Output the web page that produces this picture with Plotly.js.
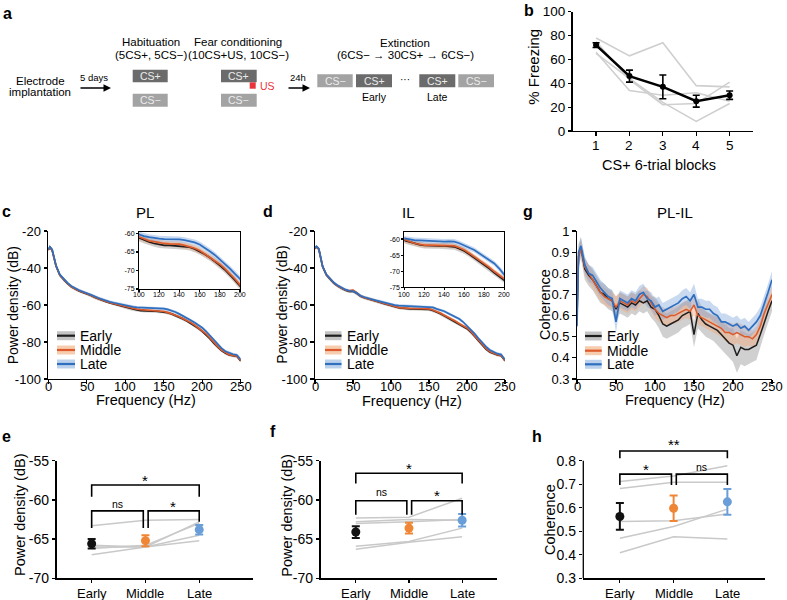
<!DOCTYPE html>
<html><head><meta charset="utf-8">
<script src="https://cdn.plot.ly/plotly-3.0.1.min.js"></script>
<style>body{margin:0;background:#fff}#chart{width:787px;height:600px}</style>
</head><body><div id="chart"></div>
<script>
// ---------- data ----------
const blocks=[1,2,3,4,5];
const blockLabels=['1','2','3','4','5'];
const freezeMean=[72,46,37,25,30];
const freezeSem=[2,5,10,5,3.5];
const freezeRat1=[78,63,74,38,37];
const freezeRat2=[66,34,30,32,25];
const freezeRat3=[65,44,24,8,23];
const freezeRat4=[75,43,22,23,41];

const freqHz=[0,2,5,10,15,20,25,30,35,40,45,50,55,60,65,70,75,80,85,90,95,100,105,110,115,120,125,130,135,140,145,150,155,160,165,170,175,180,185,190,195,200,205,210,215,220,225,230,235,240,245,250];
const freqTicks=[0,50,100,150,200,250];
const insetTicks=[100,120,140,160,180,200];

const plLate=[-30.0,-28.5,-30.0,-38.5,-43.5,-46.0,-48.0,-49.8,-51.0,-52.0,-52.8,-53.5,-54.3,-55.3,-56.2,-57.0,-57.7,-58.3,-58.8,-59.3,-59.8,-60.3,-60.7,-61.0,-61.3,-61.4,-61.5,-61.5,-61.6,-61.6,-61.8,-62.0,-62.4,-63.0,-63.8,-64.8,-65.8,-67.0,-68.2,-69.5,-70.9,-72.3,-74.2,-76.5,-79.0,-81.3,-83.3,-85.0,-86.0,-86.6,-87.0,-89.5];
const plMiddle=[-30.3,-28.8,-30.3,-38.8,-43.8,-46.3,-48.3,-50.1,-51.3,-52.3,-53.1,-53.8,-54.6,-55.7,-56.6,-57.4,-58.1,-58.8,-59.3,-59.8,-60.4,-61.0,-61.5,-62.0,-62.2,-62.5,-62.7,-62.8,-62.8,-62.9,-63.2,-63.5,-64.0,-64.6,-65.5,-66.3,-67.3,-68.3,-69.5,-70.8,-72.3,-73.9,-75.6,-77.8,-80.2,-82.4,-84.3,-85.8,-86.8,-87.3,-87.6,-90.0];
const plEarly=[-30.2,-28.8,-30.4,-38.9,-43.9,-46.4,-48.4,-50.2,-51.4,-52.4,-53.2,-53.9,-54.7,-55.8,-56.7,-57.5,-58.2,-58.9,-59.5,-60.0,-60.6,-61.2,-61.8,-62.3,-62.7,-63.0,-63.2,-63.2,-63.3,-63.3,-63.5,-63.7,-64.2,-64.8,-65.6,-66.5,-67.5,-68.6,-69.8,-71.1,-72.6,-74.2,-76.0,-78.2,-80.6,-82.8,-84.6,-86.0,-87.0,-87.4,-87.7,-90.2];

const ilLate=[-29.0,-28.3,-29.5,-39.0,-43.5,-46.0,-48.0,-49.5,-50.8,-51.7,-52.3,-52.5,-53.5,-55.0,-55.8,-56.5,-57.0,-57.5,-58.0,-58.6,-59.2,-59.8,-60.1,-60.3,-60.4,-60.5,-60.6,-60.7,-60.6,-60.8,-60.7,-60.8,-61.3,-62.1,-62.7,-63.4,-64.4,-65.5,-66.5,-67.6,-69.2,-71.2,-73.2,-75.5,-78.0,-80.5,-82.5,-84.3,-85.5,-86.3,-86.8,-89.5];
const ilMiddle=[-29.2,-28.5,-29.7,-39.2,-43.7,-46.2,-48.2,-49.7,-51.0,-51.9,-52.4,-52.0,-53.4,-55.2,-56.0,-56.7,-57.3,-57.8,-58.4,-59.0,-59.6,-60.3,-60.8,-61.3,-61.6,-61.9,-61.9,-61.9,-61.9,-61.9,-62.0,-62.1,-62.7,-63.4,-64.4,-65.5,-66.5,-67.6,-68.8,-70.1,-71.2,-72.4,-74.3,-76.6,-79.1,-81.5,-83.5,-85.2,-86.2,-86.9,-87.3,-90.0];
const ilEarly=[-29.3,-28.6,-29.8,-39.3,-43.8,-46.3,-48.3,-49.8,-51.1,-52.0,-52.6,-52.6,-53.7,-55.3,-56.1,-56.8,-57.4,-57.9,-58.5,-59.1,-59.7,-60.4,-60.9,-61.4,-61.7,-62.0,-62.1,-62.1,-62.1,-62.1,-62.3,-62.4,-63.0,-63.7,-64.7,-65.8,-66.9,-68.0,-69.2,-70.5,-71.6,-72.8,-74.6,-76.9,-79.4,-81.8,-83.8,-85.4,-86.4,-87.0,-87.4,-90.1];
const psdSemEarly=0.9, psdSemMiddle=0.8, psdSemLate=0.8;

const cohLate=[0.55,0.90,0.93,0.84,0.80,0.79,0.76,0.73,0.71,0.69,0.68,0.57,0.68,0.67,0.66,0.68,0.67,0.70,0.71,0.68,0.67,0.64,0.65,0.62,0.63,0.64,0.65,0.66,0.68,0.69,0.67,0.70,0.64,0.64,0.63,0.63,0.61,0.60,0.57,0.57,0.56,0.55,0.56,0.54,0.55,0.53,0.55,0.57,0.60,0.65,0.71,0.77];
const cohMiddle=[0.62,0.88,0.92,0.83,0.80,0.77,0.74,0.71,0.69,0.68,0.67,0.64,0.67,0.66,0.65,0.67,0.66,0.68,0.70,0.69,0.66,0.63,0.61,0.60,0.59,0.60,0.60,0.61,0.62,0.63,0.62,0.65,0.60,0.59,0.58,0.57,0.56,0.55,0.54,0.52,0.52,0.51,0.52,0.51,0.50,0.50,0.49,0.51,0.55,0.61,0.66,0.70];
const cohEarly=[0.58,0.88,0.92,0.82,0.79,0.77,0.74,0.71,0.70,0.68,0.67,0.63,0.66,0.65,0.64,0.66,0.65,0.67,0.66,0.67,0.64,0.63,0.60,0.56,0.55,0.56,0.57,0.58,0.60,0.61,0.62,0.51,0.61,0.58,0.56,0.55,0.54,0.53,0.51,0.49,0.47,0.46,0.41,0.45,0.44,0.44,0.45,0.46,0.51,0.57,0.62,0.67];
const cohSemEarly=[0.06,0.05,0.05,0.05,0.05,0.05,0.05,0.05,0.05,0.05,0.05,0.06,0.05,0.05,0.05,0.05,0.05,0.05,0.05,0.05,0.05,0.06,0.06,0.06,0.06,0.06,0.06,0.06,0.06,0.06,0.06,0.06,0.07,0.06,0.06,0.06,0.06,0.07,0.07,0.07,0.07,0.08,0.08,0.08,0.08,0.07,0.07,0.07,0.06,0.06,0.05,0.05];
const cohSemMiddle=[0.05,0.04,0.04,0.04,0.04,0.04,0.04,0.04,0.04,0.04,0.04,0.05,0.04,0.04,0.04,0.04,0.04,0.04,0.04,0.04,0.04,0.04,0.04,0.04,0.04,0.04,0.04,0.04,0.04,0.04,0.04,0.05,0.04,0.04,0.04,0.04,0.04,0.04,0.04,0.04,0.05,0.05,0.05,0.05,0.05,0.04,0.04,0.04,0.04,0.04,0.04,0.04];
const cohSemLate=[0.04,0.04,0.04,0.04,0.04,0.04,0.04,0.04,0.04,0.04,0.04,0.05,0.04,0.04,0.04,0.04,0.04,0.04,0.04,0.04,0.04,0.04,0.04,0.04,0.04,0.04,0.04,0.04,0.04,0.04,0.04,0.05,0.04,0.04,0.04,0.04,0.04,0.04,0.04,0.04,0.04,0.04,0.04,0.04,0.04,0.04,0.04,0.04,0.04,0.04,0.04,0.04];

const phases=['Early','Middle','Late'];
const phasePos=[0,1,2];
const plPowMean=[-65.6,-65.2,-63.8];
const plPowSem=[0.6,0.7,0.6];
const plPowRat1=[-63.3,-62.6,-62.5];
const plPowRat2=[-65.8,-66.0,-62.8];
const plPowRat3=[-66.0,-66.0,-64.5];
const plPowRat4=[-67.0,-66.0,-65.2];
const plPowRat5=[-66.2,-65.8,-63.0];

const ilPowMean=[-64.1,-63.6,-62.6];
const ilPowSem=[0.75,0.7,0.8];
const ilPowRat1=[-62.3,-62.2,-59.8];
const ilPowRat2=[-63.0,-62.8,-62.5];
const ilPowRat3=[-62.8,-62.5,-62.6];
const ilPowRat4=[-65.9,-65.3,-63.6];
const ilPowRat5=[-66.3,-65.4,-64.7];

const cohPhaseMean=[0.563,0.598,0.625];
const cohPhaseSem=[0.057,0.054,0.055];
const cohRat1=[0.712,0.735,0.779];
const cohRat2=[0.682,0.708,0.708];
const cohRat3=[0.541,0.545,0.573];
const cohRat4=[0.470,0.520,0.594];
const cohRat5=[0.409,0.477,0.467];

// ---------- styling ----------
const FONT='Arial, "Liberation Sans", Helvetica, sans-serif';
const P=x=>x/787, Q=y=>1-y/600;
const cEarly='#1e1e1e', cMiddle='#dc5a2c', cLate='#2f6fc0';
const bEarly='rgba(150,150,150,0.45)', bMiddle='rgba(245,165,115,0.42)', bLate='rgba(125,165,220,0.42)';
const dotEarly='#111111', dotMiddle='#ef8636', dotLate='#6a9ed8';
const GRAY='#c9c9c9';

const traces=[];
function band(x,m,s,xa,ya,col){
  const up=m.map((v,i)=>v+(Array.isArray(s)?s[i]:s));
  const lo=m.map((v,i)=>v-(Array.isArray(s)?s[i]:s));
  traces.push({x:x.concat(x.slice().reverse()),y:up.concat(lo.slice().reverse()),fill:'toself',fillcolor:col,
    mode:'lines',line:{width:0},xaxis:xa,yaxis:ya,hoverinfo:'skip',showlegend:false});
}
function line(x,y,xa,ya,col,w){
  traces.push({x:x,y:y,mode:'lines',line:{color:col,width:w||1.7},xaxis:xa,yaxis:ya,showlegend:false,hoverinfo:'skip'});
}

// b
[freezeRat1,freezeRat2,freezeRat3,freezeRat4].forEach(r=>line(blocks,r,'x','y','#cfcfcf',1.6));
traces.push({x:blocks,y:freezeMean,mode:'lines+markers',line:{color:'#000',width:2.6},marker:{color:'#000',size:6},
  error_y:{type:'data',array:freezeSem,color:'#000',thickness:1.6,width:3.5},xaxis:'x',yaxis:'y',showlegend:false});

// c (PL) main + inset
[['x2','y2'],['x3','y3']].forEach(([xa,ya])=>{
  band(freqHz,plEarly,psdSemEarly,xa,ya,bEarly);
  band(freqHz,plMiddle,psdSemMiddle,xa,ya,bMiddle);
  band(freqHz,plLate,psdSemLate,xa,ya,bLate);
  line(freqHz,plEarly,xa,ya,cEarly);
  line(freqHz,plMiddle,xa,ya,cMiddle);
  line(freqHz,plLate,xa,ya,cLate);
});
// d (IL)
[['x4','y4'],['x5','y5']].forEach(([xa,ya])=>{
  band(freqHz,ilEarly,psdSemEarly,xa,ya,bEarly);
  band(freqHz,ilMiddle,psdSemMiddle,xa,ya,bMiddle);
  band(freqHz,ilLate,psdSemLate,xa,ya,bLate);
  line(freqHz,ilEarly,xa,ya,cEarly);
  line(freqHz,ilMiddle,xa,ya,cMiddle);
  line(freqHz,ilLate,xa,ya,cLate);
});
// g coherence
band(freqHz,cohEarly,cohSemEarly,'x6','y6',bEarly);
band(freqHz,cohMiddle,cohSemMiddle,'x6','y6',bMiddle);
band(freqHz,cohLate,cohSemLate,'x6','y6',bLate);
line(freqHz,cohEarly,'x6','y6',cEarly,1.5);
line(freqHz,cohMiddle,'x6','y6',cMiddle,1.5);
line(freqHz,cohLate,'x6','y6',cLate,1.7);

// e,f,h
function phasePanel(rats,mean,sem,xa,ya){
  rats.forEach(r=>line(phasePos,r,xa,ya,GRAY,1.5));
  const cols=[dotEarly,dotMiddle,dotLate];
  phasePos.forEach((p,i)=>{
    traces.push({x:[p],y:[mean[i]],mode:'markers',marker:{color:cols[i],size:9},
      error_y:{type:'data',array:[sem[i]],color:cols[i],thickness:2,width:4},xaxis:xa,yaxis:ya,showlegend:false});
  });
}
phasePanel([plPowRat1,plPowRat2,plPowRat3,plPowRat4,plPowRat5],plPowMean,plPowSem,'x7','y7');
phasePanel([ilPowRat1,ilPowRat2,ilPowRat3,ilPowRat4,ilPowRat5],ilPowMean,ilPowSem,'x8','y8');
phasePanel([cohRat1,cohRat2,cohRat3,cohRat4,cohRat5],cohPhaseMean,cohPhaseSem,'x9','y9');

// brackets (annotation lines)
function bracket(xa,ya,x0,x1,yTop,yL,yR){
  traces.push({x:[x0,x0,x1,x1],y:[yL,yTop,yTop,yR],mode:'lines',line:{color:'#000',width:1.6},xaxis:xa,yaxis:ya,showlegend:false,hoverinfo:'skip'});
}
bracket('x7','y7',0,2,-58.1,-59.6,-59.6);
bracket('x7','y7',0,0.96,-61.4,-63.6,-63.6);
bracket('x7','y7',1.05,2,-61.4,-63.6,-62.8);
bracket('x8','y8',0,2,-56.6,-57.9,-57.9);
bracket('x8','y8',0,0.96,-60.1,-61.9,-61.9);
bracket('x8','y8',1.05,2,-60.1,-61.9,-61.9);
bracket('x9','y9',0,2,0.841,0.81,0.81);
bracket('x9','y9',0,0.96,0.743,0.697,0.697);
bracket('x9','y9',1.05,2,0.743,0.697,0.697);

// ---------- axes ----------
function ax(dom,anchor,extra){
  return Object.assign({domain:dom,anchor:anchor,showline:true,linecolor:'#000',linewidth:1.3,ticks:'outside',ticklen:3.5,
    tickwidth:1.2,tickcolor:'#000',showgrid:false,zeroline:false,tickfont:{family:FONT,size:13,color:'#000'},fixedrange:true},extra);
}
const layout={
  width:787,height:600,margin:{l:0,r:0,t:0,b:0},paper_bgcolor:'#fff',plot_bgcolor:'rgba(0,0,0,0)',showlegend:false,
  font:{family:FONT,color:'#000'},
  xaxis:ax([P(572.7),P(753)],'y',{range:[0.3,5.7],tickvals:blocks,showticklabels:false}),
  yaxis:ax([Q(131),Q(11.7)],'x',{range:[0,100],tickvals:[0,20,40,60,80,100],tickfont:{family:FONT,size:13.5}}),
  xaxis2:ax([P(48.3),P(240.7)],'y2',{range:[0,250],tickvals:freqTicks,showticklabels:false}),
  yaxis2:ax([Q(379),Q(231)],'x2',{range:[-100,-20],tickvals:[-100,-80,-60,-40,-20],ticktext:['-100','-80','-60','-40','-20']}),
  xaxis3:ax([P(139),P(240)],'y3',{range:[100,200],tickvals:insetTicks,showticklabels:false,ticklen:2,mirror:true,linewidth:1}),
  yaxis3:ax([Q(289),Q(232)],'x3',{range:[-75,-59.6],tickvals:[-75,-70,-65,-60],ticktext:['-75','-70','-65','-60'],ticklen:2,mirror:true,linewidth:1,tickfont:{family:FONT,size:7}}),
  xaxis4:ax([P(315),P(505)],'y4',{range:[0,250],tickvals:freqTicks,showticklabels:false}),
  yaxis4:ax([Q(379),Q(231)],'x4',{range:[-100,-20],tickvals:[-100,-80,-60,-40,-20],ticktext:['-100','-80','-60','-40','-20']}),
  xaxis5:ax([P(404.3),P(504.3)],'y5',{range:[100,200],tickvals:insetTicks,showticklabels:false,ticklen:2,mirror:true,linewidth:1}),
  yaxis5:ax([Q(287.3),Q(231.7)],'x5',{range:[-75,-57.7],tickvals:[-75,-70,-65,-60],ticktext:['-75','-70','-65','-60'],ticklen:2,mirror:true,linewidth:1,tickfont:{family:FONT,size:7}}),
  xaxis6:ax([P(577),P(772)],'y6',{range:[0,250],tickvals:freqTicks,showticklabels:false}),
  yaxis6:ax([Q(379),Q(231)],'x6',{range:[0.3,1],tickvals:[0.3,0.4,0.5,0.6,0.7,0.8,0.9,1],ticktext:['0.3','0.4','0.5','0.6','0.7','0.8','0.9','1']}),
  xaxis7:ax([P(56.7),P(253)],'y7',{range:[-0.65,3.0],tickvals:phasePos,showticklabels:false}),
  yaxis7:ax([Q(578.3),Q(460.7)],'x7',{range:[-70,-55],tickvals:[-70,-65,-60,-55],ticktext:['-70','-65','-60','-55'],tickfont:{family:FONT,size:14}}),
  xaxis8:ax([P(320.7),P(496.7)],'y8',{range:[-0.66,2.65],tickvals:phasePos,showticklabels:false}),
  yaxis8:ax([Q(578.3),Q(460.7)],'x8',{range:[-70,-55],tickvals:[-70,-65,-60,-55],ticktext:['-70','-65','-60','-55'],tickfont:{family:FONT,size:14}}),
  xaxis9:ax([P(583.3),P(765)],'y9',{range:[-0.68,2.7],tickvals:phasePos,showticklabels:false}),
  yaxis9:ax([Q(578.3),Q(441.9)],'x9',{range:[0.3,0.88],showline:false,tickvals:[0.3,0.4,0.5,0.6,0.7,0.8],ticktext:['0.3','0.4','0.5','0.6','0.7','0.8'],tickfont:{family:FONT,size:14}}),
  shapes:[],annotations:[]
};
const S=layout.shapes, A=layout.annotations;
S.push({type:'line',xref:'x9 domain',yref:'y9',x0:0,x1:0,y0:0.3,y1:0.8,line:{color:'#000',width:1.3}});

function txt(x,y,t,size,opts){A.push(Object.assign({xref:'paper',yref:'paper',x:P(x),y:Q(y),text:t,showarrow:false,
  xanchor:'center',yanchor:'middle',font:{family:FONT,size:size,color:'#000'}},opts||{}));}
function rect(x0,x1,y0,y1,col){S.push({type:'rect',xref:'paper',yref:'paper',x0:P(x0),x1:P(x1),y0:Q(y1),y1:Q(y0),fillcolor:col,line:{width:0},layer:'above'});}
function arrow(x0,x1,y){A.push({xref:'paper',yref:'paper',x:P(x1),y:Q(y),ax:x0-x1,ay:0,text:'',showarrow:true,arrowhead:2,arrowsize:1,arrowwidth:1.5,arrowcolor:'#000'});}
// x tick labels placed as text on the axis scale
function xTickLabels(xa,vals,texts,ypx,size){
  vals.forEach((v,i)=>A.push({xref:xa,yref:'paper',x:v,y:Q(ypx),text:texts[i],showarrow:false,xanchor:'center',yanchor:'middle',
    font:{family:FONT,size:size,color:'#000'}}));
}
xTickLabels('x',blocks,blockLabels,145,13.5);
xTickLabels('x2',freqTicks,freqTicks.map(String),386.7,13);
xTickLabels('x4',freqTicks,freqTicks.map(String),386.7,13);
xTickLabels('x6',freqTicks,freqTicks.map(String),386.7,13);
xTickLabels('x3',insetTicks,insetTicks.map(String),294,7);
xTickLabels('x5',insetTicks,insetTicks.map(String),294,7);
xTickLabels('x7',phasePos,phases,593.3,13);
xTickLabels('x8',phasePos,phases,593.3,13);
xTickLabels('x9',phasePos,phases,593.3,13);

// panel letters
[['a',7,14],['b',529,11],['c',6,212],['d',268,212],['g',528,212],['e',6,436],['f',273,431],['h',537,436]].forEach(([l,x,y])=>
  txt(x,y,'<b>'+l+'</b>',16));

// panel a diagram
const dark='#6b6b6b', light='#a3a3a3', boxTxt='#ececec';
txt(40,81,'Electrode',11.5); txt(40,92,'implantation',11.5);
txt(94,77.5,'5 days',9.5); arrow(79,111,88);
txt(150.7,42.3,'Habituation',11.5); txt(150.7,55,'(5CS+, 5CS\u2212)',11.5);
rect(132.7,167.7,69.7,82.3,dark); txt(150.2,76,'CS+',10.5,{font:{family:FONT,size:10.5,color:boxTxt}});
rect(132.7,167.7,93.7,106.7,light); txt(150.2,100.2,'CS\u2212',10.5,{font:{family:FONT,size:10.5,color:boxTxt}});
txt(238.3,42.3,'Fear conditioning',11.5); txt(238.3,55,'(10CS+US, 10CS\u2212)',11.5);
rect(221,256.7,69.7,82.3,dark); txt(238.8,76,'CS+',10.5,{font:{family:FONT,size:10.5,color:boxTxt}});
rect(249.7,255.7,82.3,88.7,'#e8343b'); txt(257.5,86,'US',10.5,{xanchor:'left',font:{family:FONT,size:10.5,color:'#e8343b'}});
rect(221,256.7,93.7,106.7,light); txt(238.8,100.2,'CS\u2212',10.5,{font:{family:FONT,size:10.5,color:boxTxt}});
txt(298,77.5,'24h',9.5); arrow(287,310,88);
txt(405,42.7,'Extinction',11.5); txt(405.8,54.7,'(6CS\u2212 \u2192 30CS+ \u2192 6CS\u2212)',11.5);
rect(317.3,352.7,74.3,87.3,light); txt(335,80.8,'CS\u2212',10.5,{font:{family:FONT,size:10.5,color:boxTxt}});
rect(356,392,74.3,87.3,dark); txt(374,80.8,'CS+',10.5,{font:{family:FONT,size:10.5,color:boxTxt}});
txt(374,97.3,'Early',10.5);
txt(405,79.5,'\u00b7\u00b7\u00b7',10);
rect(419.3,455.3,74.3,87.3,dark); txt(437.3,80.8,'CS+',10.5,{font:{family:FONT,size:10.5,color:boxTxt}});
rect(458.3,494,74.3,87.3,light); txt(476.2,80.8,'CS\u2212',10.5,{font:{family:FONT,size:10.5,color:boxTxt}});
txt(437,97.3,'Late',10.5);

// axis titles
txt(534,66.7,'% Freezing',15,{textangle:-90});
txt(659,165,'CS+ 6-trial blocks',14.5);
txt(145,212.7,'PL',15); txt(408,212.7,'IL',15); txt(675,212.7,'PL-IL',15);
txt(13.3,305,'Power density (dB)',14,{textangle:-90});
txt(281.7,305,'Power density (dB)',14,{textangle:-90});
txt(545,305,'Coherence',14.5,{textangle:-90});
txt(146,399.5,'Frequency (Hz)',14.5); txt(411.7,400.5,'Frequency (Hz)',14.5); txt(675.3,400,'Frequency (Hz)',14.5);
txt(20,515,'Power density (dB)',14.5,{textangle:-90});
txt(286.7,515,'Power density (dB)',14.5,{textangle:-90});
txt(550,520,'Coherence',14.5,{textangle:-90});

// custom legends (band + line)
function legend(xs,xe,xt,ys){
  const items=[['Early','#c4c4c4',cEarly],['Middle','#f7cdb0',cMiddle],['Late','#bcd2ec',cLate]];
  items.forEach((it,i)=>{
    rect(xs,xe,ys[i]-4.5,ys[i]+4.5,it[1]);
    S.push({type:'line',xref:'paper',yref:'paper',x0:P(xs),x1:P(xe),y0:Q(ys[i]),y1:Q(ys[i]),line:{color:it[2],width:2.2},layer:'above'});
    txt(xt,ys[i],it[0],14,{xanchor:'left'});
  });
}
legend(57,75,77.5,[335.7,350,364]);
legend(325,341.5,344.5,[335.7,350,364]);
legend(585,601.7,604.5,[336,350.7,364.3]);

// significance labels
function sig(xa,ya,x,y,t,size){A.push({xref:xa,yref:ya,x:x,y:y,text:t,showarrow:false,font:{family:FONT,size:size,color:'#000'}});}
sig('x7','y7',1,-57.5,'*',15); sig('x7','y7',0.48,-60.5,'ns',10.5); sig('x7','y7',1.52,-60.9,'*',15);
sig('x8','y8',1,-56.0,'*',15); sig('x8','y8',0.48,-59.0,'ns',10.5); sig('x8','y8',1.52,-59.4,'*',15);
sig('x9','y9',1,0.868,'**',15); sig('x9','y9',0.48,0.762,'*',15); sig('x9','y9',1.52,0.772,'ns',10.5);

Plotly.newPlot('chart',traces,layout,{staticPlot:true,displayModeBar:false});
</script></body></html>
